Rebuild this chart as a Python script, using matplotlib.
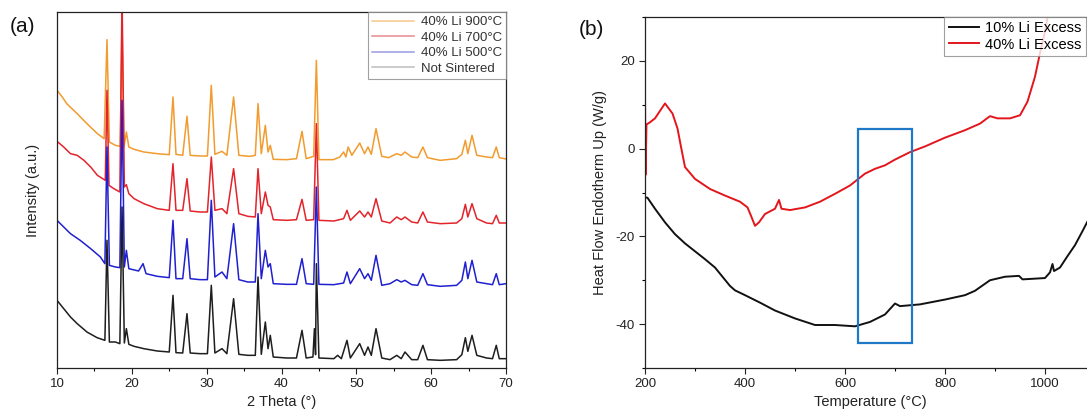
import matplotlib
matplotlib.use("Agg")
import matplotlib.pyplot as plt
from matplotlib.patches import Rectangle
from matplotlib.ticker import MultipleLocator, FixedLocator

plt.rcParams['font.family'] = ['Liberation Sans', 'DejaVu Sans']
plt.rcParams['axes.unicode_minus'] = False

# ---------------- Panel (a): XRD patterns (2theta in degrees, intensity a.u.) ----------------
xrd_labels = ["40% Li 900°C", "40% Li 700°C", "40% Li 500°C", "Not Sintered"]
xrd_colors = ["#f29b2e", "#e3242b", "#2020d0", "#1e1e1e"]
legend_colors_a = ["#f7c88c", "#e68a8e", "#9b9be6", "#bdbdbd"]

theta_900 = [10.0, 10.7, 11.3, 12.7, 14.0, 15.4, 16.3, 16.68, 17.0, 17.8, 18.45, 18.69, 18.95, 19.27, 19.6,
             20.3, 21.6, 23.4, 25.0, 25.5, 25.9, 26.8, 27.37, 27.8, 29.1, 30.1, 30.62, 31.1, 32.05, 32.7,
             33.6, 34.3, 35.8, 36.5, 36.86, 37.3, 37.84, 38.2, 38.5, 38.9, 40.7, 42.0, 42.74, 43.3, 44.3,
             44.66, 45.0, 46.9, 47.8, 48.3, 48.6, 48.9, 49.4, 50.45, 51.1, 51.56, 52.0, 52.63, 53.4, 54.3,
             55.4, 56.0, 56.5, 57.4, 58.2, 58.9, 59.5, 61.2, 63.4, 64.1, 64.57, 64.9, 65.46, 66.1, 67.4,
             68.2, 68.7, 69.1, 70.0]
int_900 = [833, 813, 793, 763, 733, 703, 688, 985, 678, 668, 665, 1043, 663, 708, 663,
           656, 648, 643, 640, 813, 641, 638, 755, 638, 636, 636, 848, 641, 650, 638,
           813, 638, 635, 638, 793, 643, 728, 648, 668, 626, 625, 628, 710, 628, 635,
           923, 625, 625, 633, 648, 633, 663, 638, 675, 643, 663, 641, 718, 635, 631,
           643, 638, 648, 633, 631, 663, 631, 623, 628, 641, 683, 643, 698, 638, 633,
           631, 663, 631, 627]

theta_700 = [10.0, 10.9, 11.8, 12.7, 13.6, 14.5, 15.4, 16.1, 16.45, 16.68, 16.95, 17.6, 18.4, 18.69, 19.0,
             19.27, 19.6, 20.3, 21.6, 23.4, 25.0, 25.5, 25.9, 26.8, 27.37, 27.8, 29.1, 30.1, 30.62, 31.1,
             32.05, 32.7, 33.6, 34.3, 35.5, 36.5, 36.86, 37.3, 37.84, 38.2, 38.5, 38.9, 40.7, 42.0, 42.74,
             43.3, 44.3, 44.66, 45.0, 47.0, 48.3, 48.75, 49.2, 50.45, 51.1, 51.56, 52.0, 52.63, 53.4, 54.5,
             55.4, 56.0, 56.5, 57.4, 58.2, 58.9, 59.5, 61.2, 63.4, 64.1, 64.57, 64.9, 65.46, 66.1, 67.4,
             68.2, 68.7, 69.1, 70.0]
int_700 = [680, 663, 643, 638, 623, 603, 578, 568, 563, 833, 548, 538, 528, 1123, 543,
           550, 523, 508, 493, 478, 473, 613, 473, 473, 568, 471, 468, 468, 633, 473,
           478, 463, 598, 463, 455, 453, 598, 463, 528, 488, 483, 445, 443, 445, 506,
           443, 445, 733, 443, 441, 448, 473, 443, 471, 453, 468, 453, 508, 441, 435,
           453, 445, 453, 438, 435, 468, 438, 433, 435, 448, 491, 453, 493, 448, 435,
           433, 458, 435, 435]

theta_500 = [10.0, 10.9, 11.8, 13.1, 14.5, 15.8, 16.4, 16.68, 17.0, 17.8, 18.4, 18.69, 19.0, 19.27, 19.6,
             20.9, 21.5, 21.9, 23.4, 25.0, 25.5, 25.9, 26.8, 27.37, 27.8, 29.1, 30.1, 30.62, 31.1, 32.05,
             32.7, 33.6, 34.3, 35.5, 36.5, 36.86, 37.3, 37.84, 38.2, 38.5, 38.9, 40.7, 42.0, 42.74, 43.3,
             44.3, 44.66, 45.0, 47.0, 48.3, 48.75, 49.2, 50.45, 51.1, 51.56, 52.0, 52.63, 53.4, 54.5, 55.4,
             56.0, 56.5, 57.4, 58.2, 58.9, 59.5, 61.2, 63.4, 64.1, 64.57, 64.9, 65.46, 66.1, 67.4, 68.2,
             68.7, 69.1, 70.0]
int_500 = [443, 423, 403, 383, 358, 333, 313, 663, 308, 303, 301, 803, 303, 353, 298,
           291, 313, 283, 275, 271, 443, 268, 268, 388, 268, 265, 265, 503, 273, 288,
           268, 433, 265, 258, 258, 463, 268, 353, 303, 313, 253, 251, 251, 328, 253,
           251, 543, 251, 250, 255, 288, 253, 298, 268, 283, 263, 338, 248, 253, 265,
           258, 263, 250, 248, 283, 250, 245, 248, 263, 318, 268, 323, 258, 253, 250,
           283, 250, 253]

theta_ns = [10.0, 10.9, 11.8, 12.7, 14.0, 15.35, 16.4, 16.68, 17.0, 17.8, 18.4, 18.69, 19.0, 19.27, 19.6,
            20.3, 21.6, 23.4, 25.0, 25.5, 25.9, 26.8, 27.37, 27.8, 29.1, 30.1, 30.62, 31.1, 32.05, 32.7,
            33.6, 34.3, 35.5, 36.5, 36.86, 37.3, 37.84, 38.2, 38.5, 38.9, 40.7, 42.0, 42.74, 43.3, 44.2,
            44.4, 44.55, 44.66, 45.0, 47.0, 47.5, 48.0, 48.75, 49.2, 50.45, 51.1, 51.56, 52.0, 52.63, 53.4,
            54.5, 55.4, 56.0, 56.5, 57.4, 58.2, 58.9, 59.5, 61.2, 63.4, 64.1, 64.57, 64.9, 65.46, 66.1,
            67.4, 68.2, 68.7, 69.1, 70.0]
int_ns = [203, 178, 153, 133, 108, 91, 83, 383, 78, 78, 73, 483, 75, 118, 71,
          65, 58, 51, 48, 218, 46, 45, 163, 45, 43, 43, 248, 45, 58, 43,
          208, 41, 38, 38, 273, 41, 138, 58, 98, 33, 30, 30, 113, 30, 33,
          118, 40, 313, 30, 28, 38, 28, 83, 30, 73, 38, 63, 38, 118, 30,
          25, 38, 28, 48, 25, 25, 68, 25, 23, 25, 40, 91, 50, 98, 38,
          30, 28, 68, 28, 28]

# ---------------- Panel (b): DSC curves ----------------
dsc_labels = ["10% Li Excess", "40% Li Excess"]
dsc_colors = ["#111111", "#e3161c"]

temp_10 = [200, 205, 220, 240, 260, 280, 300, 320, 340, 355, 370, 380, 400, 430, 460, 500, 540, 580, 620,
           650, 680, 700, 710, 750, 800, 840, 860, 890, 920, 948, 955, 1000, 1010, 1015, 1018, 1030,
           1045, 1060, 1075, 1090, 1105]
heat_10 = [-11.1, -11.2, -13.7, -16.8, -19.5, -21.6, -23.4, -25.2, -27.1, -29.2, -31.3, -32.3, -33.4, -35.1,
           -36.9, -38.7, -40.2, -40.2, -40.5, -39.5, -37.8, -35.3, -35.9, -35.5, -34.4, -33.4, -32.4, -30.0,
           -29.2, -29.0, -29.8, -29.5, -28.2, -26.3, -27.9, -27.1, -24.5, -22.0, -18.8, -15.5, -12.0]

temp_40 = [200, 201, 203, 210, 220, 240, 255, 265, 272, 280, 300, 330, 360, 390, 405, 412, 420, 428, 440,
           460, 468, 473, 490, 520, 550, 580, 610, 640, 660, 680, 700, 730, 760, 800, 840, 870, 890, 905,
           930, 950, 965, 980, 990, 1000, 1010]
heat_40 = [13.0, -6.0, 5.5, 6.0, 6.9, 10.3, 8.0, 4.6, 0.4, -4.2, -6.9, -9.2, -10.7, -12.1, -13.4, -15.3,
           -17.6, -16.8, -14.9, -13.7, -11.7, -13.7, -14.0, -13.4, -12.1, -10.3, -8.4, -5.7, -4.6, -3.8,
           -2.5, -0.8, 0.5, 2.5, 4.2, 5.7, 7.4, 6.9, 6.9, 7.6, 10.7, 16.4, 21.8, 26.7, 33.0]

box_temp = [626, 734]
box_heat = [-44.3, 4.5]

# ---------------- Figure ----------------
fig = plt.figure(figsize=(10.87, 4.13), dpi=100)

ax_a = fig.add_axes([57 / 1087, 45 / 413, 449 / 1087, 356 / 413])
series_a = [(theta_900, int_900), (theta_700, int_700), (theta_500, int_500), (theta_ns, int_ns)]
for (tx, iy), c, lab in zip(series_a, xrd_colors, xrd_labels):
    ax_a.plot(tx, iy, color=c, lw=1.1, label=lab)
ax_a.set_xlim(10, 70)
ax_a.set_ylim(0, 1068)
ax_a.set_yticks([])
ax_a.xaxis.set_major_locator(MultipleLocator(10))
ax_a.xaxis.set_minor_locator(MultipleLocator(5))
ax_a.tick_params(axis='x', which='major', direction='out', length=4, width=0.8, labelsize=9.5, colors='#222222')
ax_a.tick_params(axis='x', which='minor', direction='out', length=2.5, width=0.8)
ax_a.set_xlabel("2 Theta (°)", fontsize=10.5, color='#222222', labelpad=3)
ax_a.set_ylabel("Intensity (a.u.)", fontsize=10.5, color='#222222', labelpad=12)
for sp in ax_a.spines.values():
    sp.set_linewidth(0.9)
    sp.set_color('#222222')
leg_a = ax_a.legend(loc='upper right', fontsize=9.5, frameon=True, fancybox=False,
                    borderaxespad=0, handlelength=3.2, labelspacing=0.25, borderpad=0.3,
                    handletextpad=0.5)
leg_a.get_frame().set_edgecolor('#888888')
leg_a.get_frame().set_linewidth(0.8)
for ln, c in zip(leg_a.get_lines(), legend_colors_a):
    ln.set_color(c)
for t in leg_a.get_texts():
    t.set_color('#333333')

ax_b = fig.add_axes([645 / 1087, 45 / 413, 450 / 1087, 351 / 413])
ax_b.plot(temp_10, heat_10, color=dsc_colors[0], lw=1.4, label=dsc_labels[0])
ax_b.plot(temp_40, heat_40, color=dsc_colors[1], lw=1.4, label=dsc_labels[1])
ax_b.add_patch(Rectangle((box_temp[0], box_heat[0]), box_temp[1] - box_temp[0], box_heat[1] - box_heat[0],
                         fill=False, edgecolor='#1f78c8', lw=1.6, zorder=5))
ax_b.set_xlim(200, 1100)
ax_b.set_ylim(-50, 30)
ax_b.xaxis.set_major_locator(FixedLocator([200, 400, 600, 800, 1000]))
ax_b.xaxis.set_minor_locator(FixedLocator([300, 500, 700, 900]))
ax_b.yaxis.set_major_locator(MultipleLocator(20))
ax_b.yaxis.set_minor_locator(MultipleLocator(10))
ax_b.tick_params(which='major', direction='out', length=4, width=0.8, labelsize=9.5, colors='#222222')
ax_b.tick_params(which='minor', direction='out', length=2.5, width=0.8)
ax_b.set_xlabel("Temperature (°C)", fontsize=10.5, color='#222222', labelpad=3)
ax_b.set_ylabel("Heat Flow Endotherm Up (W/g)", fontsize=10.5, color='#222222', labelpad=6)
for sp in ax_b.spines.values():
    sp.set_linewidth(0.9)
    sp.set_color('#222222')
leg_b = ax_b.legend(loc='upper right', bbox_to_anchor=(1086 / 1087, 396 / 413),
                    bbox_transform=fig.transFigure, fontsize=10.5, frameon=True,
                    fancybox=False, borderaxespad=0, handlelength=2.1, labelspacing=0.15,
                    borderpad=0.3, handletextpad=0.4)
leg_b.get_frame().set_edgecolor('#888888')
leg_b.get_frame().set_linewidth(0.8)

fig.text(0.009, 0.935, "(a)", fontsize=15, color='#111111', va='center', ha='left')
fig.text(0.532, 0.928, "(b)", fontsize=15, color='#111111', va='center', ha='left')

fig.savefig("out.png", dpi=100)
